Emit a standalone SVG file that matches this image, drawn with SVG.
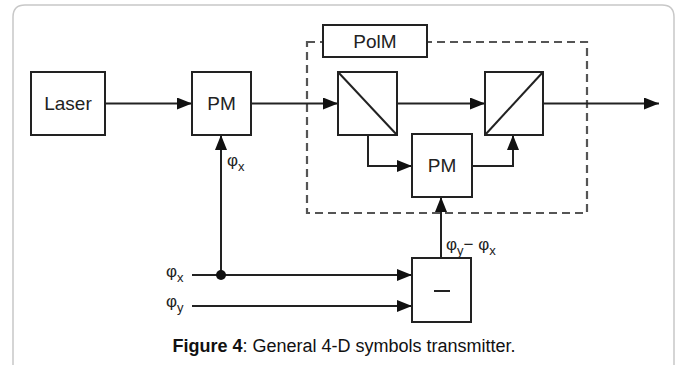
<svg xmlns="http://www.w3.org/2000/svg" width="682" height="365" viewBox="0 0 682 365">
<defs>
<style>
.box{fill:#fff;stroke:#222;stroke-width:2}
.ln{fill:none;stroke:#222;stroke-width:2}
.dash{fill:none;stroke:#555;stroke-width:2.2;stroke-dasharray:8,5}
.lbl{font-family:"Liberation Sans",Arial,sans-serif;font-size:19px;fill:#222;text-anchor:middle}
.sym{font-family:"Liberation Sans",Arial,sans-serif;font-size:17px;fill:#222}
.sub{font-size:13px}
.cap{font-family:"Liberation Sans",Arial,sans-serif;font-size:18px;fill:#111;text-anchor:middle}
</style>
<marker id="ah" viewBox="0 0 15 12" refX="15" refY="6" markerWidth="15" markerHeight="12" markerUnits="userSpaceOnUse" orient="auto">
<path d="M0,0 L15,6 L0,12 z" fill="#111"/>
</marker>
</defs>
<rect width="682" height="365" fill="#fff"/>
<path d="M13,380 L13,17 Q13,5 25,5 L662,5 Q674,5 674,17 L674,380" fill="none" stroke="#c8c8c8" stroke-width="1.5"/>

<g id="polm-frame">
<rect class="dash" x="307" y="42" width="280" height="171"/>
</g>

<g id="connectors">
<line class="ln" x1="105" y1="103.5" x2="192" y2="103.5" marker-end="url(#ah)"/>
<line class="ln" x1="251" y1="103.5" x2="338" y2="103.5" marker-end="url(#ah)"/>
<line class="ln" x1="397" y1="103.5" x2="485" y2="103.5" marker-end="url(#ah)"/>
<line class="ln" x1="543" y1="103.5" x2="659" y2="103.5" marker-end="url(#ah)"/>
<polyline class="ln" points="368,135 368,166 412,166" marker-end="url(#ah)"/>
<polyline class="ln" points="472,166 513,166 513,135" marker-end="url(#ah)"/>
<line class="ln" x1="441" y1="258" x2="441" y2="197" marker-end="url(#ah)"/>
<line class="ln" x1="192" y1="275" x2="412" y2="275" marker-end="url(#ah)"/>
<line class="ln" x1="192" y1="306" x2="412" y2="306" marker-end="url(#ah)"/>
<line class="ln" x1="221" y1="275" x2="221" y2="135" marker-end="url(#ah)"/>
<circle cx="221" cy="275" r="5" fill="#111"/>
</g>

<g id="laser"><rect class="box" x="31" y="72" width="74" height="63"/><text class="lbl" x="68" y="110">Laser</text></g>
<g id="pm1"><rect class="box" x="192" y="72" width="59" height="63"/><text class="lbl" x="221.5" y="110">PM</text></g>
<g id="polm-label"><rect class="box" x="323" y="25" width="104" height="32"/><text class="lbl" x="375" y="48">PolM</text></g>
<g id="splitter1"><rect class="box" x="338" y="72" width="59" height="63"/><line class="ln" x1="338" y1="72" x2="397" y2="135"/></g>
<g id="splitter2"><rect class="box" x="485" y="72" width="58" height="63"/><line class="ln" x1="485" y1="135" x2="543" y2="72"/></g>
<g id="pm2"><rect class="box" x="412" y="134" width="60" height="63"/><text class="lbl" x="442" y="172">PM</text></g>
<g id="minus"><rect class="box" x="412" y="258" width="59" height="64"/><line x1="434" y1="291" x2="450" y2="291" stroke="#222" stroke-width="2"/></g>

<g id="labels">
<text class="sym" x="227" y="166">φ<tspan class="sub" dy="5">x</tspan></text>
<text class="sym" x="166" y="277">φ<tspan class="sub" dy="5">x</tspan></text>
<text class="sym" x="166" y="307">φ<tspan class="sub" dy="5">y</tspan></text>
<text class="sym" x="446" y="250">φ<tspan class="sub" dy="5">y</tspan><tspan dy="-5">− φ</tspan><tspan class="sub" dy="5">x</tspan></text>
</g>

<text class="cap" x="344" y="352"><tspan font-weight="bold">Figure 4</tspan>: General 4-D symbols transmitter.</text>
</svg>
